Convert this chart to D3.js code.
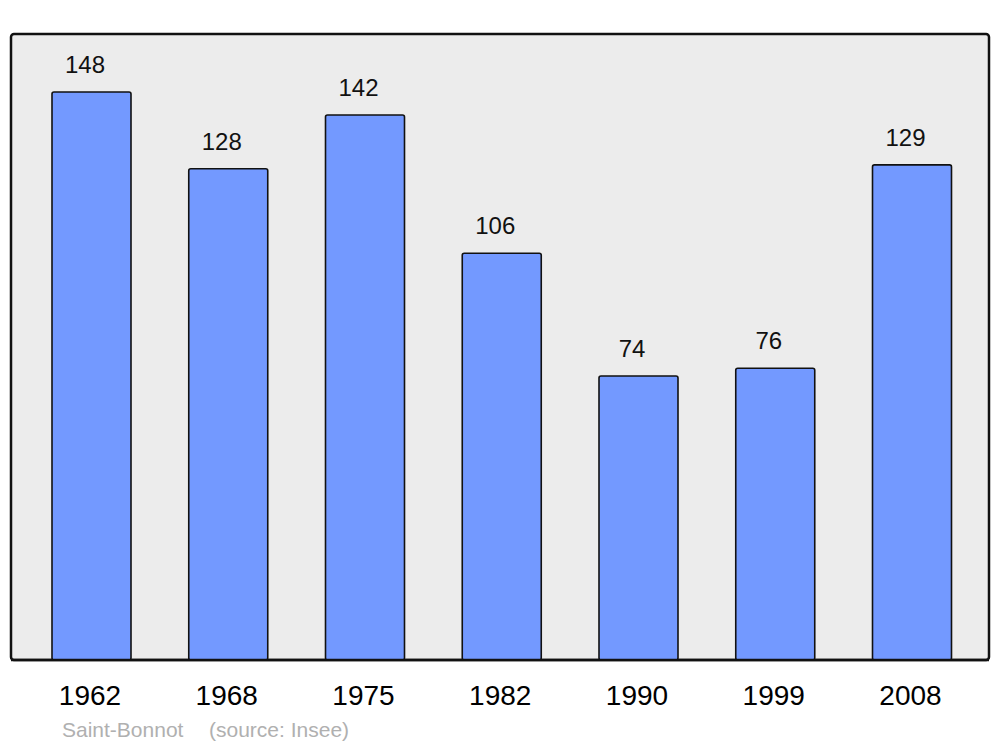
<!DOCTYPE html>
<html>
<head>
<meta charset="utf-8">
<script src="https://cdn.jsdelivr.net/npm/d3@7"></script>
<style>
html,body{margin:0;padding:0;background:#fff;}
svg{display:block;}
text{font-family:"Liberation Sans", Arial, sans-serif;}
</style>
</head>
<body>
<script>
const years = ["1962","1968","1975","1982","1990","1999","2008"];
const population = [148,128,142,106,74,76,129];
const townName = "Saint-Bonnot";
const sourceText = "(source: Insee)";

const W = 1000, H = 747;
const svg = d3.select("body").append("svg").attr("width", W).attr("height", H);

const panel = {x0: 11, y0: 34, x1: 989, y1: 660};

svg.append("rect")
  .attr("x", panel.x0).attr("y", panel.y0)
  .attr("width", panel.x1 - panel.x0).attr("height", panel.y1 - panel.y0)
  .attr("rx", 3).attr("ry", 3)
  .attr("fill", "#ececec").attr("stroke", "#111").attr("stroke-width", 2.5);

const x = d3.scalePoint().domain(years).range([91.5, 912]);
const y = d3.scaleLinear().domain([0, 148]).range([panel.y1, 92]);
const bw = 79;

svg.selectAll("rect.bar").data(population).enter().append("rect")
  .attr("class", "bar")
  .attr("x", (d, i) => x(years[i]) - bw / 2)
  .attr("y", d => y(d))
  .attr("width", bw)
  .attr("height", d => y(0) - y(d))
  .attr("rx", 2).attr("ry", 2)
  .attr("fill", "#7399ff").attr("stroke", "#111").attr("stroke-width", 1.6);

// redraw panel bottom border over bars
svg.append("line")
  .attr("x1", panel.x0).attr("x2", panel.x1)
  .attr("y1", panel.y1).attr("y2", panel.y1)
  .attr("stroke", "#111").attr("stroke-width", 2.5);

svg.selectAll("text.val").data(population).enter().append("text")
  .attr("class", "val")
  .attr("x", (d, i) => x(years[i]) - 6.5)
  .attr("y", d => y(d) - 19)
  .attr("text-anchor", "middle")
  .attr("font-size", 24)
  .attr("fill", "#111")
  .text(d => d);

const xAxis = d3.axisBottom(x).tickSize(0).tickPadding(0);
const ax = svg.append("g").attr("transform", `translate(-2, ${panel.y1})`).call(xAxis);
ax.select(".domain").remove();
ax.selectAll("text")
  .attr("font-size", 28)
  .attr("font-family", "Liberation Sans, Arial, sans-serif")
  .attr("fill", "#000")
  .attr("dy", null)
  .attr("y", 45);

const src = svg.append("text")
  .attr("x", 62).attr("y", 737)
  .attr("font-size", 21)
  .attr("fill", "#b0b0b0");
src.append("tspan").text(townName);
src.append("tspan").attr("x", 209).text(sourceText);
</script>
</body>
</html>
